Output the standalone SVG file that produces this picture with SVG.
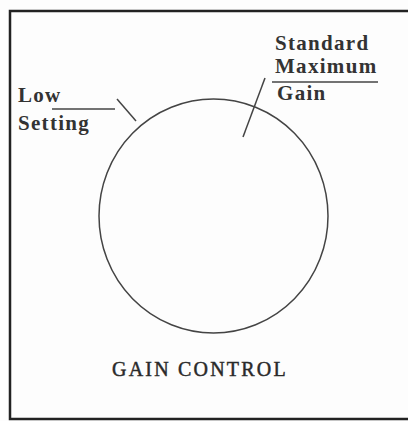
<svg xmlns="http://www.w3.org/2000/svg" width="408" height="421" viewBox="0 0 408 421">
<style>
.lbl{font-family:"Liberation Serif","Times New Roman",serif;font-weight:bold;font-size:21px;letter-spacing:1.3px;fill:#333}
.ttl{font-family:"Liberation Serif","Times New Roman",serif;font-size:20px;letter-spacing:2.2px;fill:#2a2a2a;stroke:#2a2a2a;stroke-width:0.45}
.ln{stroke:#444;stroke-width:1.5;fill:none}
</style>
<rect width="408" height="421" fill="#fdfdfd"/>
<path d="M408,11 H10 V419 H408" fill="none" stroke="#222" stroke-width="2.5"/>
<g id="dial">
<ellipse cx="213.5" cy="216" rx="114.5" ry="117" class="ln"/>
</g>
<g id="low-setting">
<text class="lbl" x="18" y="102">Low</text>
<text class="lbl" x="18" y="130">Setting</text>
<line x1="52" y1="109" x2="115" y2="109" class="ln"/>
</g>
<g id="standard-max">
<text class="lbl" x="275" y="50">Standard</text>
<text class="lbl" x="275" y="73">Maximum</text>
<text class="lbl" x="277" y="100">Gain</text>
<line x1="272" y1="82" x2="378" y2="82" class="ln"/>
</g>
<g id="connectors">
<line x1="117" y1="99" x2="136" y2="121" class="ln"/>
<line x1="265" y1="78" x2="243" y2="137" class="ln"/>
</g>
<g id="title">
<text class="ttl" x="112" y="376">GAIN CONTROL</text>
</g>
</svg>
